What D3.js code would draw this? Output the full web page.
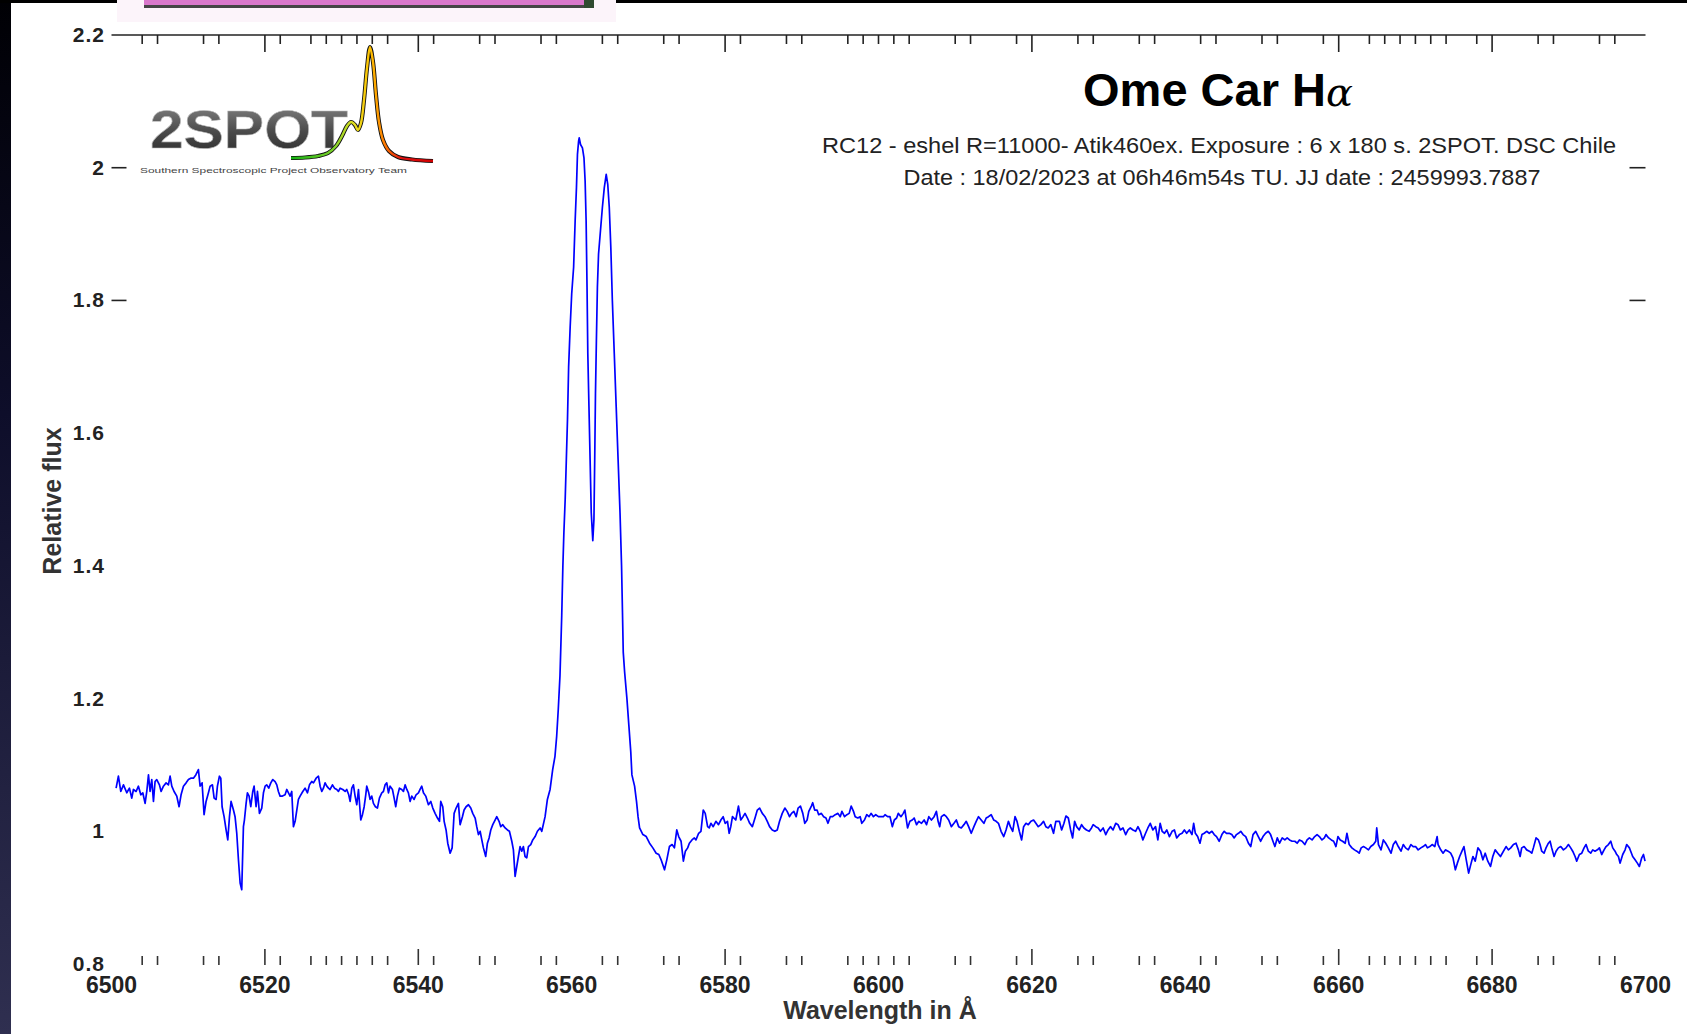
<!DOCTYPE html>
<html>
<head>
<meta charset="utf-8">
<script src="https://cdn.jsdelivr.net/npm/d3@7"></script>
<style>
  body { margin: 0; background: #fff; overflow: hidden; }
  text { font-family: "Liberation Sans", Arial, Helvetica, sans-serif; }
</style>
</head>
<body>
<script>
// spectrum: [wavelength in Å, relative flux]
const blueContinuum = [
  [6500.60,1.065],[6500.90,1.083],[6501.21,1.060],[6501.56,1.070],[6501.99,1.058],[6502.34,1.065],[6502.64,1.050],[6502.86,1.063],
  [6503.21,1.060],[6503.51,1.068],[6503.82,1.055],[6504.08,1.058],[6504.38,1.042],[6504.60,1.060],[6504.82,1.085],[6505.03,1.060],
  [6505.25,1.078],[6505.47,1.045],[6505.68,1.075],[6505.90,1.078],[6506.25,1.070],[6506.47,1.060],[6506.77,1.068],[6507.12,1.073],
  [6507.42,1.070],[6507.64,1.083],[6507.86,1.068],[6508.16,1.060],[6508.51,1.053],[6508.81,1.037],[6509.07,1.055],[6509.38,1.068],
  [6509.73,1.073],[6510.03,1.078],[6510.33,1.080],[6510.68,1.080],[6510.99,1.085],[6511.33,1.093],[6511.55,1.068],[6511.81,1.073],
  [6512.07,1.025],[6512.33,1.045],[6512.64,1.058],[6512.86,1.068],[6513.16,1.070],[6513.38,1.050],[6513.64,1.048],[6513.81,1.068],
  [6514.07,1.083],[6514.25,1.080],[6514.42,1.037],[6514.68,1.022],[6514.94,1.002],[6515.16,0.987],[6515.38,1.022],[6515.59,1.045],
  [6515.90,1.032],[6516.11,1.022],[6516.33,0.997],[6516.55,0.957],[6516.77,0.922],[6516.98,0.912],[6517.20,1.007],[6517.33,1.017],
  [6517.55,1.042],[6517.72,1.058],[6517.94,1.053],[6518.16,1.037],[6518.42,1.060],[6518.59,1.068],[6518.85,1.037],[6519.03,1.060],
  [6519.29,1.027],[6519.59,1.035],[6519.81,1.058],[6520.03,1.068],[6520.24,1.070],[6520.50,1.065],[6520.77,1.073],[6521.03,1.078],
  [6521.33,1.075],[6521.55,1.070],[6521.76,1.060],[6521.98,1.053],[6522.29,1.053],[6522.63,1.055],[6522.85,1.063],[6523.07,1.058],
  [6523.29,1.053],[6523.50,1.060],[6523.72,1.007],[6523.94,1.015],[6524.16,1.032],[6524.37,1.048],[6524.59,1.053],[6524.94,1.060],
  [6525.24,1.065],[6525.55,1.058],[6525.81,1.070],[6526.11,1.075],[6526.33,1.073],[6526.68,1.080],[6526.98,1.083],[6527.20,1.068],
  [6527.42,1.060],[6527.63,1.065],[6527.85,1.073],[6528.07,1.068],[6528.29,1.065],[6528.50,1.063],[6528.81,1.070],[6529.07,1.065],
  [6529.37,1.063],[6529.59,1.060],[6529.81,1.065],[6530.15,1.063],[6530.46,1.060],[6530.67,1.063],[6530.93,1.055],[6531.11,1.045],
  [6531.33,1.065],[6531.54,1.070],[6531.76,1.053],[6531.98,1.040],[6532.20,1.063],[6532.50,1.017],[6532.72,1.025],[6532.94,1.037],
  [6533.15,1.055],[6533.28,1.068],[6533.54,1.058],[6533.71,1.048],[6533.93,1.053],[6534.15,1.042],[6534.41,1.037],[6534.67,1.035],
  [6534.93,1.050],[6535.24,1.058],[6535.45,1.060],[6535.67,1.070],[6535.89,1.073],[6536.11,1.058],[6536.32,1.068],[6536.63,1.063],
  [6536.85,1.050],[6537.06,1.037],[6537.28,1.053],[6537.54,1.065],[6537.84,1.063],[6538.06,1.060],[6538.28,1.070],[6538.50,1.063],
  [6538.71,1.058],[6538.93,1.045],[6539.15,1.053],[6539.45,1.048],[6539.71,1.055],[6540.02,1.058],[6540.23,1.063],[6540.45,1.068],
  [6540.67,1.058],[6540.97,1.053],[6541.32,1.040],[6541.63,1.045],[6541.89,1.035],[6542.19,1.027],[6542.50,1.020],[6542.76,1.015],
  [6542.93,1.045],[6543.19,1.037],[6543.37,1.015],[6543.62,1.002],[6543.84,0.982],[6544.15,0.967],[6544.41,0.975],[6544.67,1.027],
  [6544.93,1.035],[6545.23,1.042],[6545.45,1.010],[6545.75,1.022],[6545.97,1.032],[6546.23,1.037],[6546.54,1.040],[6546.84,1.035],
  [6547.10,1.027],[6547.41,1.020],[6547.62,1.007],[6547.84,0.995],[6548.06,1.000],[6548.28,0.987],[6548.49,0.975],[6548.79,0.962],
  [6549.01,0.982],[6549.23,0.990],[6549.45,1.002],[6549.71,1.010],[6550.01,1.017],[6550.23,1.022],[6550.53,1.015],[6550.75,1.007],
  [6551.01,1.010],[6551.32,1.005],[6551.62,1.002],[6551.88,1.000],[6552.19,0.985],[6552.40,0.972],[6552.62,0.932],[6552.84,0.947],
  [6553.05,0.962],[6553.27,0.977],[6553.49,0.970],[6553.70,0.977],[6553.92,0.962],[6554.14,0.960],[6554.36,0.977],[6554.66,0.980],
  [6554.92,0.987],[6555.23,0.992],[6555.53,1.000],[6555.88,1.005],[6556.10,1.000]
];

const emissionLine = [
  [6556.53,1.022],[6556.83,1.048],[6557.18,1.063],[6557.52,1.093],[6557.82,1.113],[6558.04,1.143],[6558.25,1.184],[6558.47,1.234],
  [6558.70,1.325],[6558.85,1.400],[6558.98,1.450],[6559.15,1.500],[6559.30,1.560],[6559.45,1.620],[6559.60,1.700],[6559.80,1.760],
  [6560.00,1.810],[6560.25,1.850],[6560.45,1.920],[6560.62,1.970],[6560.75,2.020],[6560.90,2.040],[6560.98,2.045],[6561.15,2.035],
  [6561.40,2.030],[6561.60,2.015],[6561.75,1.980],[6561.88,1.920],[6562.00,1.820],[6562.10,1.720],[6562.25,1.640],[6562.40,1.560],
  [6562.55,1.480],[6562.75,1.438],[6562.90,1.470],[6563.00,1.560],[6563.10,1.660],[6563.22,1.740],[6563.35,1.820],[6563.50,1.870],
  [6563.75,1.905],[6564.00,1.940],[6564.25,1.970],[6564.50,1.990],[6564.70,1.975],[6564.90,1.940],[6565.10,1.880],[6565.30,1.800],
  [6565.55,1.720],[6565.80,1.640],[6566.05,1.560],[6566.30,1.480],[6566.50,1.400],[6566.62,1.330],[6566.72,1.270],[6566.90,1.240],
  [6567.20,1.200],[6567.45,1.160],[6567.70,1.120],[6567.85,1.085],[6568.20,1.068],[6568.45,1.045],[6568.65,1.022],[6568.85,1.005]
];

const redContinuum = [
  [6569.28,0.995],[6569.72,0.992],[6570.15,0.982],[6570.58,0.975],[6571.01,0.967],[6571.36,0.965],[6571.66,0.957],[6572.10,0.942],
  [6572.40,0.957],[6572.74,0.977],[6573.09,0.980],[6573.39,0.975],[6573.70,1.002],[6573.95,0.992],[6574.26,0.985],[6574.56,0.955],
  [6574.82,0.970],[6575.12,0.975],[6575.34,0.982],[6575.68,0.987],[6575.99,0.990],[6576.20,0.987],[6576.55,0.997],[6576.85,1.000],
  [6577.15,1.032],[6577.41,1.027],[6577.72,1.007],[6577.93,1.005],[6578.15,1.012],[6578.45,1.007],[6578.80,1.015],[6579.14,1.010],
  [6579.45,1.017],[6579.75,1.022],[6580.01,1.012],[6580.31,1.015],[6580.53,0.997],[6580.74,1.007],[6580.96,1.022],[6581.39,1.017],
  [6581.74,1.038],[6582.04,1.017],[6582.34,1.022],[6582.60,1.027],[6582.91,1.020],[6583.21,1.012],[6583.55,1.007],[6583.90,1.020],
  [6584.20,1.032],[6584.50,1.035],[6584.85,1.027],[6585.20,1.022],[6585.50,1.015],[6585.80,1.007],[6586.15,1.002],[6586.49,1.000],
  [6586.80,1.002],[6587.10,1.015],[6587.45,1.027],[6587.79,1.035],[6588.09,1.030],[6588.40,1.022],[6588.66,1.027],[6588.96,1.030],
  [6589.26,1.022],[6589.52,1.035],[6589.82,1.038],[6590.13,1.027],[6590.39,1.012],[6590.69,1.017],[6590.91,1.030],[6591.25,1.038],
  [6591.42,1.043],[6591.68,1.032],[6591.99,1.032],[6592.20,1.025],[6592.55,1.027],[6592.85,1.022],[6593.15,1.020],[6593.41,1.012],
  [6593.71,1.022],[6594.02,1.022],[6594.36,1.025],[6594.71,1.027],[6595.01,1.022],[6595.23,1.030],[6595.57,1.022],[6595.88,1.025],
  [6596.18,1.027],[6596.44,1.038],[6596.74,1.030],[6596.96,1.022],[6597.30,1.020],[6597.61,1.022],[6597.82,1.012],[6598.17,1.017],
  [6598.47,1.025],[6598.77,1.022],[6599.03,1.027],[6599.34,1.022],[6599.64,1.025],[6599.99,1.022],[6600.33,1.022],[6600.63,1.022],
  [6600.85,1.025],[6601.20,1.022],[6601.50,1.022],[6601.80,1.007],[6602.06,1.017],[6602.36,1.020],[6602.58,1.027],[6602.93,1.022],
  [6603.23,1.027],[6603.44,1.032],[6603.79,1.005],[6604.09,1.015],[6604.40,1.017],[6604.65,1.020],[6604.96,1.010],[6605.26,1.015],
  [6605.61,1.012],[6605.95,1.017],[6606.26,1.010],[6606.56,1.022],[6606.90,1.017],[6607.25,1.022],[6607.55,1.030],[6607.77,1.015],
  [6607.98,1.007],[6608.20,1.022],[6608.55,1.025],[6608.85,1.022],[6609.15,1.017],[6609.50,1.007],[6609.84,1.012],[6610.15,1.017],
  [6610.45,1.007],[6610.79,1.005],[6611.14,1.010],[6611.44,1.015],[6611.75,1.007],[6612.09,0.997],[6612.44,1.007],[6612.74,1.015],
  [6613.04,1.022],[6613.39,1.017],[6613.74,1.012],[6614.04,1.020],[6614.34,1.022],[6614.69,1.025],[6615.03,1.017],[6615.34,1.015],
  [6615.64,1.012],[6615.98,1.000],[6616.33,0.992],[6616.63,1.002],[6616.94,1.015],[6617.19,1.007],[6617.50,1.000],[6617.80,1.022],
  [6618.06,1.015],[6618.36,1.000],[6618.66,0.987],[6618.92,1.007],[6619.23,1.012],[6619.53,1.010],[6619.88,1.015],[6620.22,1.017],
  [6620.52,1.012],[6620.83,1.007],[6621.17,1.010],[6621.52,1.015],[6621.82,1.007],[6622.12,1.005],[6622.47,1.010],[6622.82,0.997],
  [6623.12,1.015]
];

const farRedContinuum = [
  [6623.58,1.015],[6623.88,1.002],[6624.18,1.012],[6624.44,1.023],[6624.75,1.020],[6625.05,1.002],[6625.31,0.990],[6625.57,1.015],
  [6625.83,1.007],[6626.17,1.002],[6626.48,1.010],[6626.78,1.005],[6627.12,1.002],[6627.47,1.000],[6627.77,1.005],[6627.99,1.010],
  [6628.33,1.007],[6628.64,1.005],[6628.94,1.000],[6629.29,1.005],[6629.63,0.995],[6629.93,1.002],[6630.24,1.007],[6630.58,1.002],
  [6630.93,1.012],[6631.23,1.010],[6631.53,1.002],[6631.88,1.005],[6632.23,0.995],[6632.53,1.002],[6632.83,1.005],[6633.18,1.002],
  [6633.52,1.000],[6633.83,1.007],[6634.13,1.000],[6634.47,0.987],[6634.82,0.997],[6635.12,1.005],[6635.43,1.012],[6635.77,1.002],
  [6636.12,1.007],[6636.42,0.987],[6636.72,1.012],[6636.98,1.000],[6637.29,0.997],[6637.59,1.002],[6637.93,0.992],[6638.28,1.000],
  [6638.58,1.002],[6638.88,0.990],[6639.23,0.995],[6639.58,0.997],[6639.88,1.002],[6640.18,0.997],[6640.53,1.002],[6640.87,0.995],
  [6641.09,1.012],[6641.31,0.997],[6641.61,0.992],[6641.91,0.982],[6642.17,0.995],[6642.47,0.997],[6642.78,1.000],[6643.12,0.997],
  [6643.47,1.000],[6643.77,0.995],[6644.07,0.992],[6644.42,0.985],[6644.77,0.995],[6645.07,1.000],[6645.37,0.997],[6645.72,0.997],
  [6646.06,0.995],[6646.37,0.990],[6646.67,0.995],[6646.93,0.997],[6647.23,1.000],[6647.53,0.995],[6647.88,0.992],[6648.23,0.982],
  [6648.53,0.977],[6648.83,0.995],[6649.18,1.000],[6649.52,0.992],[6649.83,0.985],[6650.13,0.992],[6650.47,0.997],[6650.82,1.000],
  [6651.12,0.995],[6651.43,0.985],[6651.68,0.977],[6651.99,0.990],[6652.29,0.982],[6652.64,0.990],[6652.98,0.987],[6653.28,0.990],
  [6653.59,0.987],[6653.93,0.985],[6654.28,0.985],[6654.58,0.982],[6654.88,0.987],[6655.23,0.985],[6655.58,0.980],[6655.88,0.987],
  [6656.18,0.990],[6656.53,0.987],[6656.87,0.992],[6657.18,0.995],[6657.48,0.992],[6657.82,0.987],[6658.13,0.990],[6658.34,0.995],
  [6658.69,0.990],[6659.04,0.987],[6659.34,0.985],[6659.64,0.977],[6659.90,0.992],[6660.20,0.987],[6660.50,0.985],[6660.85,0.982],
  [6661.07,0.997],[6661.37,0.980],[6661.72,0.975],[6662.06,0.972],[6662.36,0.970],[6662.67,0.967],[6662.93,0.975],[6663.23,0.977],
  [6663.53,0.975],[6663.88,0.972],[6664.18,0.977],[6664.53,0.980],[6664.83,0.985],[6664.96,1.005],[6665.18,0.980],[6665.52,0.972],
  [6665.82,0.987],[6666.13,0.982],[6666.47,0.975],[6666.82,0.967],[6667.12,0.980],[6667.42,0.985],[6667.77,0.977],[6668.12,0.970],
  [6668.42,0.980],[6668.72,0.975],[6669.07,0.972],[6669.41,0.980],[6669.71,0.977],[6670.02,0.977],[6670.36,0.972],[6670.71,0.975],
  [6671.01,0.977],[6671.32,0.980],[6671.57,0.975],[6671.88,0.977],[6672.18,0.980],[6672.53,0.977],[6672.83,0.992],[6672.96,0.980],
  [6673.30,0.972],[6673.61,0.967],[6673.91,0.972],[6674.26,0.970],[6674.60,0.967],[6674.90,0.960],[6675.21,0.942],[6675.47,0.952],
  [6675.77,0.962],[6676.07,0.970],[6676.33,0.977],[6676.63,0.957],[6676.94,0.937],[6677.20,0.949],[6677.50,0.962],[6677.80,0.955],
  [6678.15,0.975],[6678.49,0.970],[6678.80,0.957],[6679.10,0.967],[6679.44,0.955],[6679.79,0.947],[6680.09,0.962],[6680.40,0.972],
  [6680.74,0.967],[6681.09,0.962],[6681.82,0.977],[6682.12,0.972],[6682.43,0.975],[6682.78,0.980],[6683.12,0.982],[6683.43,0.972],
  [6683.65,0.962],[6683.86,0.975],[6684.17,0.977],[6684.51,0.972],[6684.86,0.970],[6685.17,0.967],[6685.38,0.975],[6685.73,0.990],
  [6686.04,0.987],[6686.25,0.980],[6686.47,0.970],[6686.77,0.967],[6687.03,0.975],[6687.34,0.982],[6687.56,0.985],[6687.77,0.975],
  [6688.08,0.962],[6688.34,0.970],[6688.64,0.975],[6688.95,0.977],[6689.30,0.972],[6689.64,0.975],[6689.95,0.980],[6690.25,0.975],
  [6690.51,0.970],[6690.82,0.962],[6691.03,0.955],[6691.38,0.965],[6691.69,0.967],[6691.99,0.975],[6692.25,0.980],[6692.55,0.970],
  [6692.86,0.967],[6693.12,0.972],[6693.42,0.970],[6693.73,0.972],[6693.99,0.975],[6694.29,0.965],[6694.60,0.972],[6694.86,0.977],
  [6695.16,0.980],[6695.47,0.985],[6695.73,0.975],[6696.03,0.970],[6696.25,0.965],[6696.47,0.962],[6696.68,0.952],[6697.03,0.965],
  [6697.34,0.972],[6697.55,0.980],[6697.90,0.975],[6698.07,0.970],[6698.33,0.962],[6698.64,0.957],[6698.94,0.952],[6699.20,0.947],
  [6699.51,0.960],[6699.73,0.965],[6699.94,0.955]
];

const xLabels = [6500, 6520, 6540, 6560, 6580, 6600, 6620, 6640, 6660, 6680, 6700];
const xMajorTicks = [6520, 6540, 6580, 6620, 6660, 6680];
const xMinorTicks = [6504, 6506, 6512, 6514, 6522, 6526, 6528, 6530, 6532, 6534, 6536, 6542, 6548, 6550,
  6556, 6558, 6564, 6566, 6572, 6574, 6582, 6588, 6590, 6596, 6598, 6600, 6602, 6604, 6610, 6612, 6618,
  6626, 6628, 6634, 6636, 6642, 6644, 6650, 6652, 6658, 6664, 6666, 6668, 6670, 6672, 6674, 6678,
  6686, 6688, 6694, 6696];
const yLabels = [0.8, 1, 1.2, 1.4, 1.6, 1.8, 2, 2.2];
const yTicks = [1.8, 2];

// logo peak shape (decoration, not data)
const logoPeak = [[291,158],[305,157.5],[318,156],[328,153],[336,146],[342,136],[347,126],[351,122],
  [355,125],[358,130],[361,123],[364,100],[367,68],[370,47],[373,62],[376,95],[379,122],[383,140],
  [389,151],[398,157],[412,159.5],[433,161]];

const width = 1687, height = 1034;
const svg = d3.select("body").append("svg")
  .attr("width", width)
  .attr("height", height);

const x = d3.scaleLinear().domain([6500, 6700]).range([111.5, 1645.5]);
const y = d3.scaleLinear().domain([0.8, 2.2]).range([964, 35]);

const defs = svg.append("defs");
const edge = defs.append("linearGradient").attr("id", "edge")
  .attr("x1", 0).attr("x2", 0).attr("y1", 0).attr("y2", 1);
edge.append("stop").attr("offset", "0%").attr("stop-color", "#000004");
edge.append("stop").attr("offset", "40%").attr("stop-color", "#0e0e2a");
edge.append("stop").attr("offset", "100%").attr("stop-color", "#2f2f50");

const peakGrad = defs.append("linearGradient").attr("id", "peakGrad")
  .attr("gradientUnits", "userSpaceOnUse")
  .attr("x1", 291).attr("x2", 433).attr("y1", 0).attr("y2", 0);
[["0%", "#13b313"], ["30%", "#7cd12a"], ["45%", "#e8e020"], ["56%", "#ffc000"],
 ["66%", "#ff7a00"], ["78%", "#e01010"], ["100%", "#d00000"]]
  .forEach(([o, c]) => peakGrad.append("stop").attr("offset", o).attr("stop-color", c));

const logoGrad = defs.append("linearGradient").attr("id", "logoGrad")
  .attr("x1", 0).attr("x2", 0).attr("y1", 0).attr("y2", 1);
logoGrad.append("stop").attr("offset", "0%").attr("stop-color", "#8a8a8a");
logoGrad.append("stop").attr("offset", "55%").attr("stop-color", "#4a4a4a");
logoGrad.append("stop").attr("offset", "100%").attr("stop-color", "#2a2a2a");

// screenshot frame bits
svg.append("rect").attr("x", 0).attr("y", 0).attr("width", 11).attr("height", height).attr("fill", "url(#edge)");
svg.append("rect").attr("x", 0).attr("y", 0).attr("width", 117).attr("height", 3).attr("fill", "#000");
svg.append("rect").attr("x", 616).attr("y", 0).attr("width", width - 616).attr("height", 3).attr("fill", "#000");
svg.append("rect").attr("x", 117).attr("y", 0).attr("width", 499).attr("height", 22).attr("fill", "#fcf4fa");
svg.append("rect").attr("x", 144).attr("y", 0).attr("width", 450).attr("height", 6).attr("fill", "#d978cb");
svg.append("rect").attr("x", 144).attr("y", 5).attr("width", 450).attr("height", 3).attr("fill", "#454545");
svg.append("rect").attr("x", 584).attr("y", 0).attr("width", 10).attr("height", 8).attr("fill", "#2f4a30");

// top axis
const topAxis = svg.append("g").attr("stroke", "#222").attr("stroke-width", 1.6);
topAxis.append("line")
  .attr("x1", x(6500)).attr("x2", x(6700))
  .attr("y1", y(2.2)).attr("y2", y(2.2));
topAxis.selectAll(".minor").data(xMinorTicks).join("line")
  .attr("x1", d => x(d)).attr("x2", d => x(d))
  .attr("y1", y(2.2)).attr("y2", y(2.2) + 9);
topAxis.selectAll(".major").data(xMajorTicks).join("line")
  .attr("x1", d => x(d)).attr("x2", d => x(d))
  .attr("y1", y(2.2)).attr("y2", y(2.2) + 17);

// bottom ticks (no axis line)
const bottomAxis = svg.append("g").attr("stroke", "#333").attr("stroke-width", 1.6);
bottomAxis.selectAll(".minor").data(xMinorTicks).join("line")
  .attr("x1", d => x(d)).attr("x2", d => x(d))
  .attr("y1", y(0.8) + 1).attr("y2", y(0.8) - 8);
bottomAxis.selectAll(".major").data(xMajorTicks).join("line")
  .attr("x1", d => x(d)).attr("x2", d => x(d))
  .attr("y1", y(0.8) + 1).attr("y2", y(0.8) - 15);

svg.append("g").selectAll("text").data(xLabels).join("text")
  .attr("x", d => x(d))
  .attr("y", 993)
  .attr("text-anchor", "middle")
  .attr("font-size", 23)
  .attr("font-weight", "bold")
  .attr("fill", "#222")
  .text(d => d);

// y ticks, left and right
const yTickG = svg.append("g").attr("stroke", "#222").attr("stroke-width", 1.6);
yTickG.selectAll(".left").data(yTicks).join("line")
  .attr("x1", x(6500)).attr("x2", x(6500) + 15)
  .attr("y1", d => y(d)).attr("y2", d => y(d));
yTickG.selectAll(".right").data(yTicks).join("line")
  .attr("x1", x(6700) - 16).attr("x2", x(6700))
  .attr("y1", d => y(d)).attr("y2", d => y(d));

svg.append("g").selectAll("text").data(yLabels).join("text")
  .attr("x", 105)
  .attr("y", d => y(d) + 7)
  .attr("text-anchor", "end")
  .attr("font-size", 21)
  .attr("font-weight", "bold")
  .attr("letter-spacing", 1)
  .attr("fill", "#222")
  .text(d => d);

// axis titles
svg.append("text")
  .attr("transform", "translate(61,501) rotate(-90)")
  .attr("text-anchor", "middle")
  .attr("font-size", 25)
  .attr("font-weight", "bold")
  .attr("fill", "#333")
  .text("Relative flux");

svg.append("text")
  .attr("x", 880).attr("y", 1019)
  .attr("text-anchor", "middle")
  .attr("font-size", 25)
  .attr("font-weight", "bold")
  .attr("fill", "#333")
  .text("Wavelength in Å");

// title block
const title = svg.append("text")
  .attr("x", 1218).attr("y", 106)
  .attr("text-anchor", "middle")
  .attr("font-size", 47)
  .attr("font-weight", "bold")
  .attr("fill", "#000");
title.append("tspan").text("Ome Car H");
title.append("tspan")
  .attr("font-family", "DejaVu Serif")
  .attr("font-style", "italic")
  .attr("font-weight", "normal")
  .attr("font-size", 40)
  .text("α");

svg.append("text")
  .attr("x", 1219).attr("y", 153)
  .attr("text-anchor", "middle")
  .attr("font-size", 22)
  .attr("fill", "#222")
  .attr("textLength", 794)
  .attr("lengthAdjust", "spacingAndGlyphs")
  .text("RC12 - eshel R=11000- Atik460ex. Exposure : 6 x 180 s. 2SPOT. DSC Chile");

svg.append("text")
  .attr("x", 1222).attr("y", 185)
  .attr("text-anchor", "middle")
  .attr("font-size", 22)
  .attr("fill", "#222")
  .attr("textLength", 637)
  .attr("lengthAdjust", "spacingAndGlyphs")
  .text("Date : 18/02/2023 at 06h46m54s TU. JJ date : 2459993.7887");

// 2SPOT logo
const logo = svg.append("g");
logo.append("text")
  .attr("x", 150).attr("y", 148)
  .attr("font-family", "DejaVu Sans")
  .attr("font-size", 54)
  .attr("font-weight", "bold")
  .attr("fill", "url(#logoGrad)")
  .attr("stroke", "#bbb")
  .attr("stroke-width", 0.6)
  .attr("textLength", 198)
  .attr("lengthAdjust", "spacingAndGlyphs")
  .text("2SPOT");
const peakLine = d3.line().curve(d3.curveCatmullRom);
logo.append("path")
  .attr("d", peakLine(logoPeak))
  .attr("fill", "none")
  .attr("stroke", "#111")
  .attr("stroke-width", 4.2);
logo.append("path")
  .attr("d", peakLine(logoPeak))
  .attr("fill", "none")
  .attr("stroke", "url(#peakGrad)")
  .attr("stroke-width", 2.4);
logo.append("text")
  .attr("x", 140).attr("y", 173)
  .attr("font-size", 7)
  .attr("fill", "#444")
  .attr("textLength", 267)
  .attr("lengthAdjust", "spacingAndGlyphs")
  .text("Southern Spectroscopic Project Observatory Team");

// the spectrum
const spectrum = [...blueContinuum, ...emissionLine, ...redContinuum, ...farRedContinuum];
const line = d3.line()
  .x(d => x(d[0]))
  .y(d => y(d[1]));

svg.append("path")
  .datum(spectrum)
  .attr("d", line)
  .attr("fill", "none")
  .attr("stroke", "#0000ff")
  .attr("stroke-width", 1.7)
  .attr("stroke-linejoin", "round");
</script>
</body>
</html>
